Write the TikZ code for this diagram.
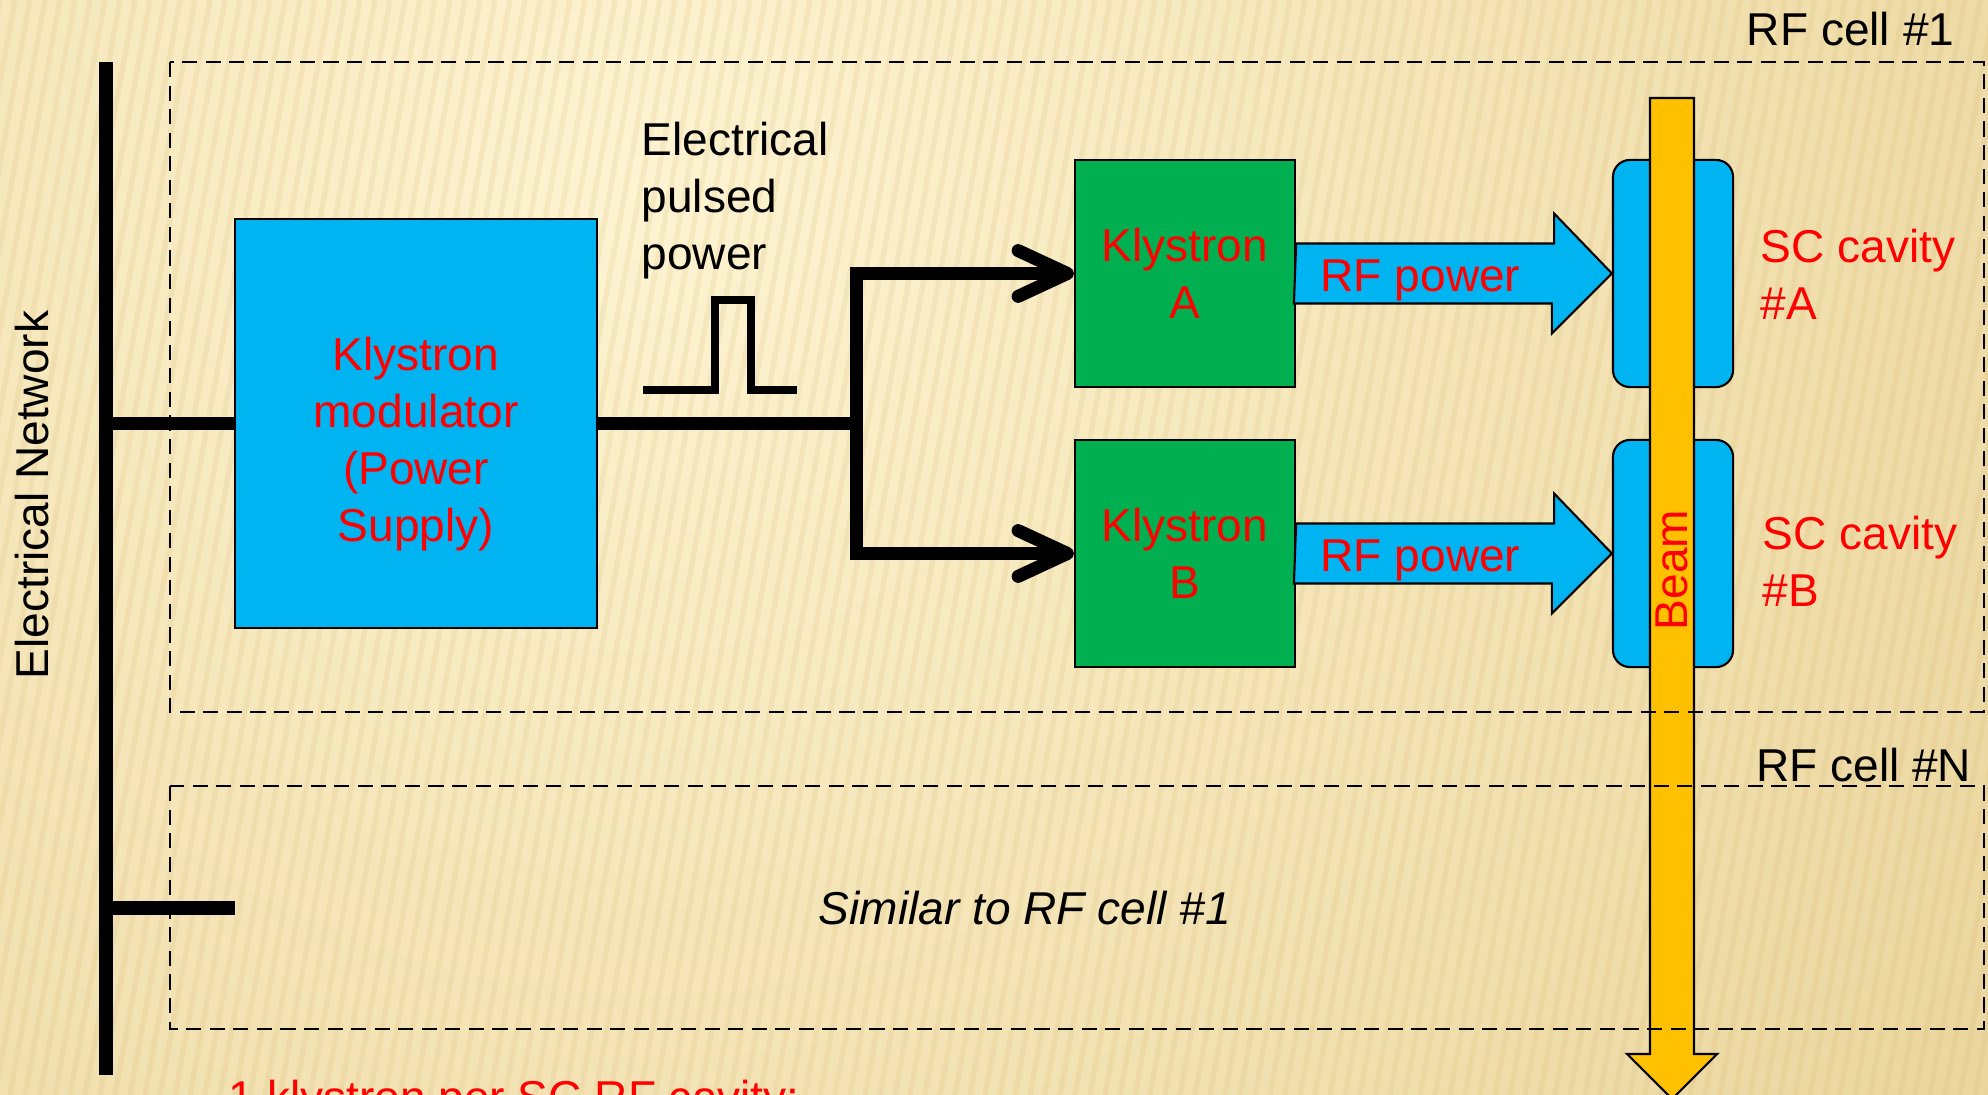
\documentclass[tikz,border=0pt]{standalone}
\usepackage{fontspec}
\setmainfont{Liberation Sans}
\usetikzlibrary{arrows.meta, positioning, calc}
\definecolor{SlideLight}{HTML}{FEF4D2}
\definecolor{SlideDark}{HTML}{E2C784}
\definecolor{StripeTan}{HTML}{D2B46C}
\definecolor{BoxCyan}{HTML}{00B4F2}
\definecolor{BoxGreen}{HTML}{00B050}
\definecolor{BeamOrange}{HTML}{FFC000}
\definecolor{LabelRed}{HTML}{FF0000}
\newcommand{\slidefont}{\fontsize{13.1}{16.2}\selectfont}

\begin{document}
\begin{tikzpicture}[
    x=0.01cm, y=-0.01cm,
    every node/.style = {font=\slidefont, inner sep=0pt},
    modbox/.style = {rectangle, draw=black, line width=0.6pt, fill=BoxCyan, minimum width=3.62cm, minimum height=4.09cm},
    klybox/.style = {rectangle, draw=black, line width=0.6pt, fill=BoxGreen, text=LabelRed, align=center, minimum width=2.2cm, minimum height=2.27cm},
    cavbox/.style = {rectangle, draw=black, line width=0.6pt, fill=BoxCyan, rounded corners=0.17cm, minimum width=1.2cm, minimum height=2.27cm},
    rfarrow/.style = {draw=black, line width=0.6pt, fill=BoxCyan},
    beamarrow/.style = {draw=black, line width=0.6pt, fill=BeamOrange},
    cellbox/.style = {draw=black, line width=0.6pt, dash pattern=on 4.3pt off 2.4pt},
    redlabel/.style = {text=LabelRed},
    busline/.style = {line width=3.7pt},
    feed/.style = {line width=3.7pt, -{Straight Barb[length=14pt, width=13pt, round]}}
]
    \useasboundingbox (0,0) rectangle (1988,1095);
    \clip (0,0) rectangle (1988,1095);

    % slide background
    \shade[inner color=SlideLight, outer color=SlideDark] (650,180) circle (2400);
    \foreach \sx in {0,15,...,2300}
        \draw[StripeTan, opacity=0.16, line width=1.5pt] (\sx,0) -- (\sx-200,1095);

    \node [modbox] (mod) at (416,423.5) {};
    \node [redlabel, align=center] (modtext) at (416,444) {Klystron\\modulator\\(Power\\Supply)};
    \node [klybox] (klyA) at (1185,273.5) {Klystron\\A};
    \node [klybox] (klyB) at (1185,553.5) {Klystron\\B};
    \node [cavbox] (cavA) at (1673,273.5) {};
    \node [cavbox] (cavB) at (1673,553.5) {};

    \draw [rfarrow] (klyA.east) ++(0,-30) -- ++(258,0) -- ++(0,-30) -- (cavA.west) -- ++(-60,60) -- ++(0,-30) -- ++(-258,0) -- cycle;
    \draw [rfarrow] (klyB.east) ++(0,-30) -- ++(258,0) -- ++(0,-30) -- (cavB.west) -- ++(-60,60) -- ++(0,-30) -- ++(-258,0) -- cycle;
    \node [redlabel, anchor=base west] (rfA) at (1320,292) {RF power};
    \node [redlabel, anchor=base west] (rfB) at (1320,572) {RF power};

    \draw [beamarrow] (1650,98) -- (1694,98) -- (1694,1054) -- (1717,1054) -- (1672,1099) -- (1627,1054) -- (1650,1054) -- cycle;
    \node [redlabel, rotate=90] (beam) at (1672,570) {Beam};

    \draw [cellbox] (170,62) rectangle (1984,712);
    \draw [cellbox] (170,786) rectangle (1984,1029);
    \node [anchor=base east] (cell1) at (1955,46) {RF cell \#1};
    \node [anchor=base east] (cellN) at (1972,782) {RF cell \#N};
    \node [anchor=base, font=\slidefont\itshape] (similar) at (1025,925) {Similar to RF cell \#1};

    \node [redlabel, anchor=north west, align=left] (scA) at (1760,228) {SC cavity\\\#A};
    \node [redlabel, anchor=north west, align=left] (scB) at (1762,515) {SC cavity\\\#B};
    \node [anchor=north west, align=left] (pulsed) at (641,121) {Electrical\\pulsed\\power};
    \node [rotate=90] (net) at (32,495) {Electrical Network};
    \node [redlabel, anchor=base west] (note) at (228,1113) {1 klystron per SC RF cavity:};

    % pulse shape
    \draw [line width=2pt] (643,390) -- (715,390) -- (715,300) -- (751,300) -- (751,390) -- (797,390);

    \coordinate (busTop) at (106,62);
    \coordinate (busBot) at (106,1075);
    \coordinate (split) at (856,423.5);
    \coordinate (stubEnd) at (235,908);

    \draw [busline] (busTop) -- (busBot);
    \draw [busline] (busTop |- mod.west) -- (mod.west);
    \draw [busline] (mod.east) -- (split);
    \draw [feed] (split) |- (klyA.west);
    \draw [feed] (split) |- (klyB.west);
    \draw [busline] (busTop |- stubEnd) -- (stubEnd);
\end{tikzpicture}
\end{document}
